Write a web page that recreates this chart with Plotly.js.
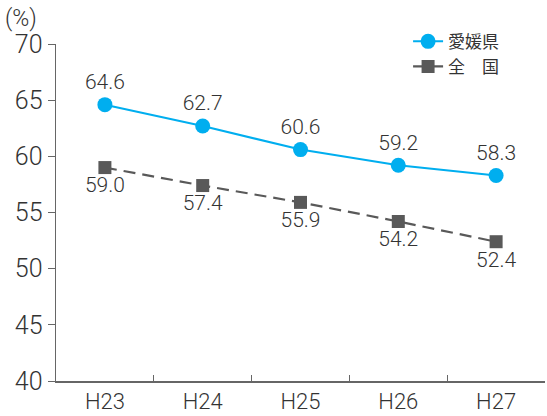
<!DOCTYPE html>
<html>
<head>
<meta charset="utf-8">
<script src="https://cdn.plot.ly/plotly-3.0.1.min.js"></script>
<style>html,body{margin:0;padding:0;background:#fff;}#chart{width:547px;height:416px;}</style>
</head>
<body>
<div id="chart"></div>
<script>
const years = ["H23", "H24", "H25", "H26", "H27"];
const ehime = [64.6, 62.7, 60.6, 59.2, 58.3];
const national = [59.0, 57.4, 55.9, 54.2, 52.4];
const seriesNames = ["愛媛県", "全　国"];
const yTicks = [40, 45, 50, 55, 60, 65, 70];

const NUM_FONT = "Roboto, 'Liberation Sans', sans-serif";
const JP_FONT = "'Noto Sans CJK JP', 'Noto Sans', sans-serif";

const traces = [
  {
    x: years, y: ehime, name: seriesNames[0], type: "scatter",
    mode: "lines+markers+text",
    text: ehime.map(v => v.toFixed(1)),
    textposition: "top center",
    textfont: {family: NUM_FONT, size: 21, weight: 300, color: "#333333"},
    line: {color: "#00AEEF", width: 2},
    marker: {symbol: "circle", size: 15, color: "#00AEEF"}
  },
  {
    x: years, y: national, name: seriesNames[1], type: "scatter",
    mode: "lines+markers+text",
    text: national.map(v => v.toFixed(1)),
    textposition: "bottom center",
    textfont: {family: NUM_FONT, size: 21, weight: 300, color: "#333333"},
    line: {color: "#595959", width: 2.2, dash: "12px,7px"},
    marker: {symbol: "square", size: 13, color: "#595959"}
  }
];

const layout = {
  width: 547, height: 416,
  margin: {l: 56, r: 2, t: 44, b: 35},
  paper_bgcolor: "#fff", plot_bgcolor: "#fff",
  font: {family: NUM_FONT, color: "#333333"},
  showlegend: true,
  legend: {
    x: 0.72, y: 1.06, xanchor: "left", yanchor: "top",
    font: {family: JP_FONT, size: 17, color: "#333333"},
    bgcolor: "rgba(0,0,0,0)", tracegroupgap: 0
  },
  xaxis: {
    type: "category", range: [-0.5, 4.5],
    showline: true, linecolor: "#666666", linewidth: 1.5,
    ticks: "inside", tickson: "boundaries", ticklen: 6, tickcolor: "#666666",
    tickfont: {family: NUM_FONT, size: 22, weight: 300, color: "#333333"},
    showgrid: false, zeroline: false, fixedrange: true
  },
  yaxis: {
    range: [40, 70], tickvals: yTicks,
    showline: true, linecolor: "#666666", linewidth: 1.5,
    ticks: "outside", ticklen: 7, tickcolor: "#666666",
    tickfont: {family: NUM_FONT, size: 25, weight: 300, color: "#333333"},
    showgrid: false, zeroline: false, fixedrange: true
  },
  annotations: [
    {text: "(%)", xref: "paper", yref: "paper", x: -0.108, y: 1.075,
     xanchor: "left", yanchor: "middle", showarrow: false,
     font: {family: NUM_FONT, size: 23, weight: 300, color: "#333333"}}
  ]
};

Plotly.newPlot("chart", traces, layout, {displayModeBar: false, staticPlot: true});
</script>
</body>
</html>
